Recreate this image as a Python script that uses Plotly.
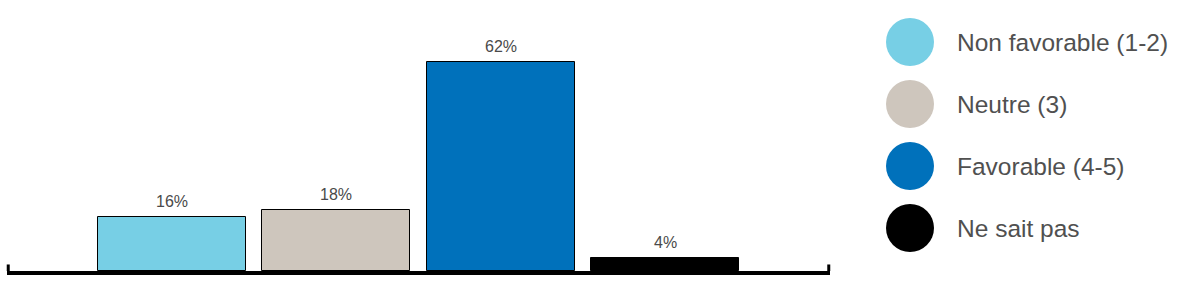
import plotly.graph_objects as go

categories = ["Non favorable (1-2)", "Neutre (3)", "Favorable (4-5)", "Ne sait pas"]
values = [16, 18, 62, 4]
labels = ["16%", "18%", "62%", "4%"]
colors = ["#77CFE5", "#CEC6BD", "#0071BB", "#000000"]

W, H = 1189, 284
ML, MR, MT, MB = 7, 0, 10, 13
paper_w = W - ML - MR
plot_right = 830
leg_left = 870

fig = go.Figure()
xs = list(range(len(categories)))
fig.add_trace(go.Bar(
    x=xs, y=values, width=0.9,
    marker=dict(color=colors, line=dict(color="#000000", width=1)),
    showlegend=False, hoverinfo="skip",
))

for xi, v, t in zip(xs, values, labels):
    fig.add_annotation(x=xi, y=v, text=t, showarrow=False, yanchor="bottom",
                       yshift=5, font=dict(family="Liberation Sans, Arial", size=16, color="#4a4a4a"),
                       xref="x", yref="y")

# custom legend
fig.add_trace(go.Scatter(
    x=[40] * len(categories), y=list(range(len(categories))), mode="markers",
    marker=dict(size=48, color=colors, line=dict(width=0)),
    xaxis="x2", yaxis="y2", showlegend=False, hoverinfo="skip",
))
for i, c in enumerate(categories):
    fig.add_annotation(x=85, y=i, text=c, showarrow=False, xanchor="left",
                       font=dict(family="Liberation Sans, Arial", size=24.5, color="#505050"),
                       xref="x2", yref="y2")

# end ticks of the baseline
for xd in (0.0015, 0.9985):
    fig.add_shape(type="line", xref="x domain", yref="y domain", x0=xd, x1=xd, y0=0, y1=0.025,
                  line=dict(color="#000000", width=3))

plot_h = H - MT - MB
fig.update_layout(
    width=W, height=H,
    margin=dict(l=ML, r=MR, t=MT, b=MB),
    paper_bgcolor="white", plot_bgcolor="white",
    bargap=0,
    xaxis=dict(domain=[0, (plot_right - ML) / paper_w], range=[-1, 4], showgrid=False,
               zeroline=False, showticklabels=False, ticks="", showline=True,
               linecolor="#000000", linewidth=4, fixedrange=True),
    yaxis=dict(range=[0, 62 * plot_h / 209], showgrid=False, zeroline=False,
               showticklabels=False, ticks="", showline=False, fixedrange=True),
    xaxis2=dict(domain=[(leg_left - ML) / paper_w, 1], range=[0, W - leg_left], visible=False,
                anchor="y2", fixedrange=True),
    yaxis2=dict(domain=[0, 1], range=[(H - MB - 42) / 62, (MT - 42) / 62], visible=False,
                anchor="x2", fixedrange=True),
    showlegend=False,
)

fig.write_html("out.html")
